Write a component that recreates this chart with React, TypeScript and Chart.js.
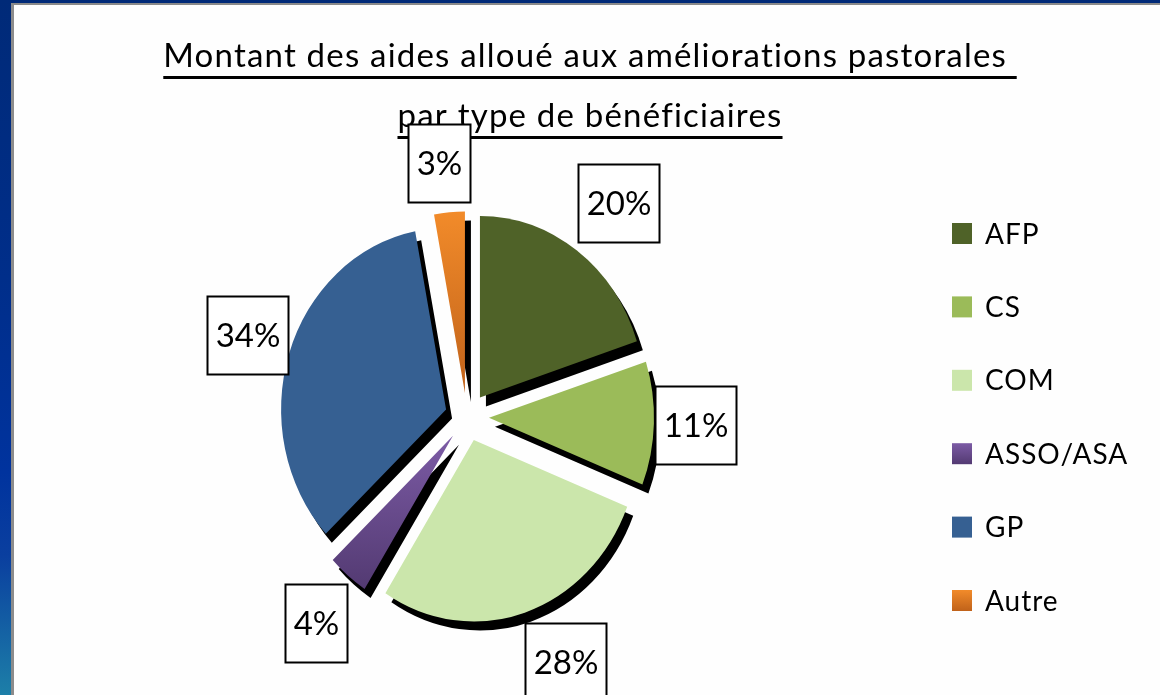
import { useEffect, useRef } from "react";
import { Chart, registerables } from "chart.js";

Chart.register(...registerables);

// ---- data ----
const categories = ["AFP", "CS", "COM", "ASSO/ASA", "GP", "Autre"];
const shares = [20, 11, 28, 4, 34, 3];
const titleLines = [
  "Montant des aides alloué aux améliorations pastorales ",
  "par type de bénéficiaires",
];
const colorsTop = ["#4f6228", "#9bbb59", "#cbe6ab", "#7c5ba5", "#366092", "#f28b2a"];
const colorsBottom = ["#4f6228", "#9bbb59", "#cbe6ab", "#533a72", "#366092", "#c0621a"];

// ---- layout / style constants ----
const W = 1160;
const H = 695;
const FONT = "Lato, 'Open Sans', sans-serif";
const CX = 467;
const CY = 417;
const RADIUS = 165;
const SY = 1.1; // vertical stretch of the pie
const LABEL_SY = 1.15; // vertical stretch of the label ring
const EXPLODE = 22;
const LABEL_FONT = 33;
const LABEL_BOX_H = 78;
const LEGEND_X = 952;
const LEGEND_Y0 = 233.5;
const LEGEND_STEP = 73.4;

const clamp1 = (v: number) => Math.max(-1, Math.min(1, v));

function sliceAngles(i: number) {
  const total = shares.reduce((a, b) => a + b, 0);
  let before = 0;
  for (let k = 0; k < i; k++) before += shares[k];
  const a0 = (before / total) * Math.PI * 2 - Math.PI / 2;
  const a1 = ((before + shares[i]) / total) * Math.PI * 2 - Math.PI / 2;
  return [a0, a1];
}

function sliceYRange(cy: number, r: number, a0: number, a1: number) {
  const ys = [cy, cy + Math.sin(a0) * r, cy + Math.sin(a1) * r];
  const norm = (a: number) => ((a % (2 * Math.PI)) + 2 * Math.PI) % (2 * Math.PI);
  const inArc = (t: number) => {
    const s = norm(a0);
    const span = a1 - a0;
    const d = norm(t - s);
    return d <= span;
  };
  if (inArc(-Math.PI / 2)) ys.push(cy - r);
  if (inArc(Math.PI / 2)) ys.push(cy + r);
  return [Math.min(...ys), Math.max(...ys)];
}

const decorPlugin = {
  id: "decor",
  beforeDraw(chart: any) {
    const ctx: any = chart.ctx;
    ctx.save();
    ctx.fillStyle = "#000";
    ctx.font = `33px ${FONT}`;
    ctx.letterSpacing = "1.2px";
    ctx.textAlign = "left";
    ctx.textBaseline = "alphabetic";
    const baselines = [67, 127];
    titleLines.forEach((line, i) => {
      const cx = 590;
      const w = ctx.measureText(line).width;
      const x0 = cx - w / 2;
      ctx.fillText(line, x0, baselines[i]);
      ctx.fillRect(x0, baselines[i] + 9, w, 3);
    });
    ctx.restore();
  },
  beforeDatasetDraw(chart: any, args: any) {
    const ctx: CanvasRenderingContext2D = chart.ctx;
    const meta = args.meta;
    if (!meta.data.length) return;
    const cx = meta.data[0].x;
    const cy = meta.data[0].y;
    ctx.save();
    ctx.translate(cx, cy);
    ctx.scale(1, SY);
    ctx.translate(-cx, -cy);
    ctx.shadowColor = "#000";
    ctx.shadowBlur = 0;
    ctx.shadowOffsetX = 6;
    ctx.shadowOffsetY = 9;
    meta.data.forEach((arc: any) => {
      const mid = (arc.startAngle + arc.endAngle) / 2;
      ctx.save();
      ctx.translate(Math.cos(mid) * EXPLODE, Math.sin(mid) * EXPLODE);
      arc.draw(ctx);
      ctx.restore();
    });
    ctx.restore();
    return false;
  },
  afterDraw(chart: any) {
    const ctx: any = chart.ctx;
    const meta = chart.getDatasetMeta(0);
    ctx.save();
    // data labels
    ctx.font = `${LABEL_FONT}px ${FONT}`;
    ctx.textAlign = "center";
    ctx.textBaseline = "middle";
    meta.data.forEach((arc: any, i: number) => {
      const mid = (arc.startAngle + arc.endAngle) / 2;
      const ux = Math.cos(mid);
      const uy = Math.sin(mid);
      const d = arc.outerRadius + EXPLODE + 1;
      const px = arc.x + ux * d;
      const py = arc.y + uy * d * LABEL_SY;
      const text = `${shares[i]}%`;
      const w = Math.round(ctx.measureText(text).width + 16);
      const h = LABEL_BOX_H;
      const bx = px + clamp1(ux * 3.6) * (w / 2);
      const by = py + clamp1(uy * 1.3) * (h / 2);
      const x0 = Math.round(bx - w / 2) + 0.5;
      const y0 = Math.round(by - h / 2) + 0.5;
      ctx.fillStyle = "#fff";
      ctx.fillRect(x0, y0, w, h);
      ctx.strokeStyle = "#000";
      ctx.lineWidth = 2;
      ctx.strokeRect(x0, y0, w, h);
      ctx.fillStyle = "#000";
      ctx.fillText(text, x0 + w / 2, y0 + h / 2 + 1);
    });
    // legend
    ctx.font = `28px ${FONT}`;
    ctx.letterSpacing = "1px";
    ctx.textAlign = "left";
    ctx.textBaseline = "middle";
    const labels: string[] = chart.data.labels;
    labels.forEach((lab, i) => {
      const y = LEGEND_Y0 + i * LEGEND_STEP;
      const g = ctx.createLinearGradient(0, y - 10.5, 0, y + 10.5);
      g.addColorStop(0, colorsTop[i]);
      g.addColorStop(1, colorsBottom[i]);
      ctx.fillStyle = g;
      ctx.fillRect(LEGEND_X, y - 10.5, 20, 21);
      ctx.fillStyle = "#000";
      ctx.fillText(lab, LEGEND_X + 33, y + 1);
    });
    ctx.restore();
  },
};

export default function App() {
  const ref = useRef<HTMLCanvasElement | null>(null);

  useEffect(() => {
    const canvas = ref.current;
    if (!canvas) return;
    const chart = new Chart(canvas, {
      type: "pie",
      data: {
        labels: categories,
        datasets: [
          {
            data: shares,
            borderWidth: 0,
            backgroundColor: (c: any) => {
              const i = c.dataIndex;
              const ch = c.chart;
              const ca = ch.chartArea;
              if (!ca || colorsTop[i] === colorsBottom[i]) return colorsTop[i];
              const cy = (ca.top + ca.bottom) / 2;
              const [a0, a1] = sliceAngles(i);
              const [y0, y1] = sliceYRange(cy, RADIUS, a0, a1);
              const g = ch.ctx.createLinearGradient(0, y0, 0, y1);
              g.addColorStop(0, colorsTop[i]);
              g.addColorStop(1, colorsBottom[i]);
              return g;
            },
          },
        ],
      },
      options: {
        responsive: false,
        animation: false,
        devicePixelRatio: 1,
        radius: RADIUS,
        layout: {
          padding: {
            left: CX - 200,
            right: W - (CX + 200),
            top: CY - 200,
            bottom: H - (CY + 200),
          },
        },
        plugins: {
          legend: { display: false },
          title: { display: false },
          tooltip: { enabled: false },
        },
      } as any,
      plugins: [decorPlugin as any],
    });
    return () => chart.destroy();
  }, []);

  return (
    <div
      style={{
        position: "fixed",
        left: 0,
        top: 0,
        width: W,
        height: H,
        overflow: "hidden",
        background:
          "linear-gradient(180deg, #002a78 0%, #002e8a 40%, #00339e 68%, #0a3f9f 80%, #1d7fa8 100%)",
      }}
    >
      <div
        style={{
          position: "absolute",
          left: 11,
          top: 3,
          width: W,
          height: H,
          background: "#fefefe",
          borderTop: "2px solid #8a8a8a",
          borderLeft: "3px solid #8c8c8c",
        }}
      />
      <canvas
        ref={ref}
        width={W}
        height={H}
        style={{ position: "absolute", left: 0, top: 0, width: W, height: H }}
      />
    </div>
  );
}
